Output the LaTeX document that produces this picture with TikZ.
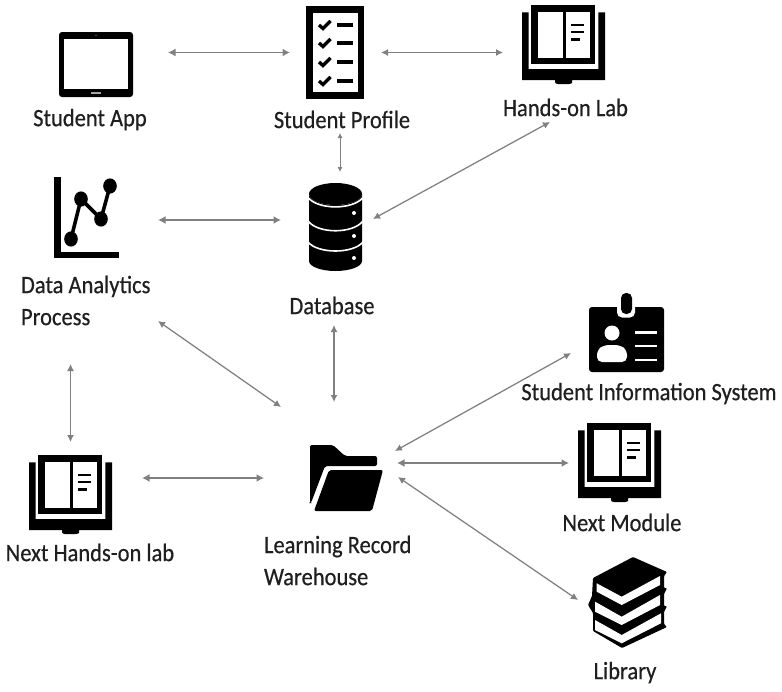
\documentclass[tikz,border=0pt]{standalone}
\usepackage{fontspec}
\setmainfont{Carlito}[FakeStretch=0.9,FakeBold=0.45]
\usetikzlibrary{arrows.meta,calc}
\tikzset{
  link/.style={draw=black!50,line width=1.25pt,{Latex[length=7pt,width=7pt]}-{Latex[length=7pt,width=7pt]}},
  linkthick/.style={draw=black!50,line width=1.6pt,{Latex[length=7.5pt,width=8pt]}-{Latex[length=7.5pt,width=8pt]}},
  linkthin/.style={draw=black!50,line width=0.85pt,{Latex[length=5pt,width=5pt]}-{Latex[length=5pt,width=5pt]}},
  iconbox/.style={inner sep=0pt,outer sep=0pt,draw=none,fill=none},
  lbl/.style={inner sep=0pt,outer sep=0pt,font=\fontsize{25}{32}\selectfont,text=black!88,align=left},
  bookicon/.pic={
    % cover
    \fill[black] (0,7.3) -- (6.7,7.3) -- (6.7,64) -- (76.3,64) -- (76.3,7.3) -- (83,7.3) -- (83,75) -- (50,75) -- (50,78) [rounded corners=1pt] -- (48,79) -- (35,79) -- (33,78) [sharp corners] -- (33,75) -- (0,75) -- cycle;
    % frame
    \fill[black] (9.3,0) rectangle (73,59);
    \fill[white] (15.7,6.5) rectangle (40.7,53);
    \fill[white] (44,6.5) rectangle (68.3,53);
    \draw[black,line width=2.7pt] (49,20) -- (62,20) (49,27) -- (62,27) (49,34.5) -- (58,34.5);
  }
}
\begin{document}
\begin{tikzpicture}[x=1pt,y=-1pt]
\useasboundingbox (0,0) rectangle (782,691);
\fill[white] (0,0) rectangle (782,691);

% --- icon boxes
\node[iconbox,minimum width=74pt,minimum height=65pt] (tablet) at (96,64.5) {};
\node[iconbox,minimum width=58pt,minimum height=93pt] (profile) at (335,52.5) {};
\node[iconbox,minimum width=83pt,minimum height=75pt] (handson) at (563.5,42.5) {};
\node[iconbox,minimum width=65pt,minimum height=81pt] (chart) at (86.5,217.5) {};
\node[iconbox,minimum width=53pt,minimum height=88pt] (db) at (335.5,227) {};
\node[iconbox,minimum width=73pt,minimum height=66pt] (folder) at (346.5,478) {};
\node[iconbox,minimum width=83pt,minimum height=75pt] (nextlab) at (70.5,492.5) {};
\node[iconbox,minimum width=75pt,minimum height=79pt] (badge) at (626.5,332.5) {};
\node[iconbox,minimum width=83pt,minimum height=75pt] (nextmod) at (619.5,460.5) {};
\node[iconbox,minimum width=79pt,minimum height=91pt] (library) at (627.5,602.5) {};

% --- tablet
\fill[black,rounded corners=3pt] (59,32) rectangle (133,97);
\fill[white] (64,39) rectangle (128,89);
\fill[black!35] (91,92.3) rectangle (101,93.8);
\fill[black!45] (96,35.5) circle (0.7);

% --- checklist
\fill[black] (306,6) rectangle (364,99);
\fill[white] (312.5,13) rectangle (358,92);
\foreach \yy in {25,43,62,81}{
  \draw[black,line width=3.4pt] (319,\yy) -- (323,\yy+3.5) -- (330.5,\yy-4);
  \draw[black,line width=3.5pt] (337,\yy) -- (353,\yy);
}

% --- books
\pic at (522,5) {bookicon};
\pic at (29,455) {bookicon};
\pic at (578,423) {bookicon};

% --- chart
\fill[black] (54,177) rectangle (60.5,258);
\fill[black] (54,251.5) rectangle (119,258);
\draw[black,line width=3.6pt] (71,239) -- (81,199) -- (101,219) -- (110,186);
\foreach \px/\py in {71/239,81/199,101/219,110/186}{\fill[black] (\px,\py) ellipse (6.8 and 7.6);}

% --- database
\fill[black] (309,194) arc[start angle=180,end angle=360,x radius=26.5,y radius=-11]
  -- (362,261) arc[start angle=0,end angle=180,x radius=26.5,y radius=10] -- cycle;
\fill[black] (335.5,194) ellipse (26.5 and 11);
\draw[white,line width=1.6pt] (308,197.5) .. controls (318,210) and (353,210) .. (363,197.5);
\draw[white,line width=1.6pt] (308,221) .. controls (318,234) and (353,234) .. (363,221);
\draw[white,line width=1.6pt] (308,242) .. controls (318,254) and (353,254) .. (363,242);
\foreach \py in {213,236,258}{\fill[white] (354,\py) circle (2);}

% --- folder
\fill[black,rounded corners=2pt] (310,445) -- (333,445) -- (345,456) -- (377,456) -- (377,466) -- (325,466) -- (311,503) -- (310,503) -- cycle;
\fill[black,rounded corners=2pt] (329,470) -- (383,470) -- (372,511) -- (314,511) -- cycle;

% --- badge
\fill[black,rounded corners=3pt] (589,307) rectangle (664,372);
\fill[white,rounded corners=5pt] (617,298) rectangle (635,317.5);
\fill[black,rounded corners=5pt] (621,293) rectangle (632,314);
\fill[white] (612,333) circle (7.5);
\fill[white,rounded corners=5pt] (597,362) -- (597,350) -- (604,345) -- (620,345) -- (627,350) -- (627,362) -- cycle;
\draw[white,line width=2.5pt] (635,332.5) -- (657,332.5) (635,346) -- (657,346) (635,360) -- (657,360);

% --- library
\fill[black,rounded corners=1pt] (633,557) -- (667,572) -- (664,576) -- (664,588) -- (667,588) -- (664,594) -- (664,606) -- (667,606) -- (664,612) -- (664,624) -- (667,627) -- (622,648) -- (593,631) -- (593,613) -- (588,605) -- (592,596) -- (593,578) -- cycle;
\fill[white] (596.7,583.3) -- (621.7,596.7) -- (660,576) -- (660,585) -- (621.7,605) -- (596.7,591.7) -- cycle;
\fill[white] (595,601.7) -- (621.7,616.7) -- (660,595) -- (660,605) -- (621.7,625) -- (595,611.7) -- cycle;
\fill[white] (595,620) -- (621.7,635) -- (661,613.3) -- (661,623.3) -- (621.7,643.3) -- (595,630) -- cycle;

% --- labels
\node[lbl] (lapp) at (90,119.5) {Student App};
\node[lbl] (lprofile) at (342,119.5) {Student Profile};
\node[lbl] (lhands) at (565.5,107.5) {Hands-on Lab};
\node[lbl,anchor=west] (ldap) at (21,300.5) {Data Analytics\\Process};
\node[lbl] (ldb) at (332,305.5) {Database};
\node[lbl] (lsis) at (649,393.5) {Student Information System};
\node[lbl] (lnmod) at (622,522.5) {Next Module};
\node[lbl] (llib) at (625,672.5) {Library};
\node[lbl] (lnlab) at (90,552.5) {Next Hands-on lab};
\node[lbl,anchor=west] (lfolder) at (264,560.5) {Learning Record\\Warehouse};

% --- connectors
\draw[linkthick] ($(tablet.east)+(35,-12)$) -- ($(profile.west)+(-16,0)$);
\draw[link] ($(profile.east)+(17,0)$) -- ($(handson.west)+(-19,10)$);
\draw[linkthin] ($(profile.south)+(5,34)$) -- ($(db.north)+(4.5,-11)$);
\draw[link] ($(handson.south)+(-13.5,42)$) -- ($(db.east)+(11,-8)$);
\draw[linkthick] ($(chart.east)+(39,2.5)$) -- ($(db.west)+(-28,-7)$);
\draw[link] ($(chart.south)+(71.5,63)$) -- ($(folder.west)+(-29,-71)$);
\draw[link] ($(db.south)+(-1.5,54)$) -- ($(folder.north)+(-12.5,-43)$);
\draw[link] ($(chart.south)+(-16,106)$) -- ($(nextlab.north)+(0,-13)$);
\draw[linkthick] ($(nextlab.east)+(30,-14.5)$) -- ($(folder.west)+(-46,0)$);
\draw[link] ($(folder.east)+(12,-27)$) -- ($(badge.west)+(-18,20.5)$);
\draw[linkthick] ($(folder.east)+(14,-15)$) -- ($(nextmod.west)+(-9,2.5)$);
\draw[link] ($(folder.east)+(15,-1)$) -- ($(library.west)+(-10,-2.5)$);
\end{tikzpicture}
\end{document}
